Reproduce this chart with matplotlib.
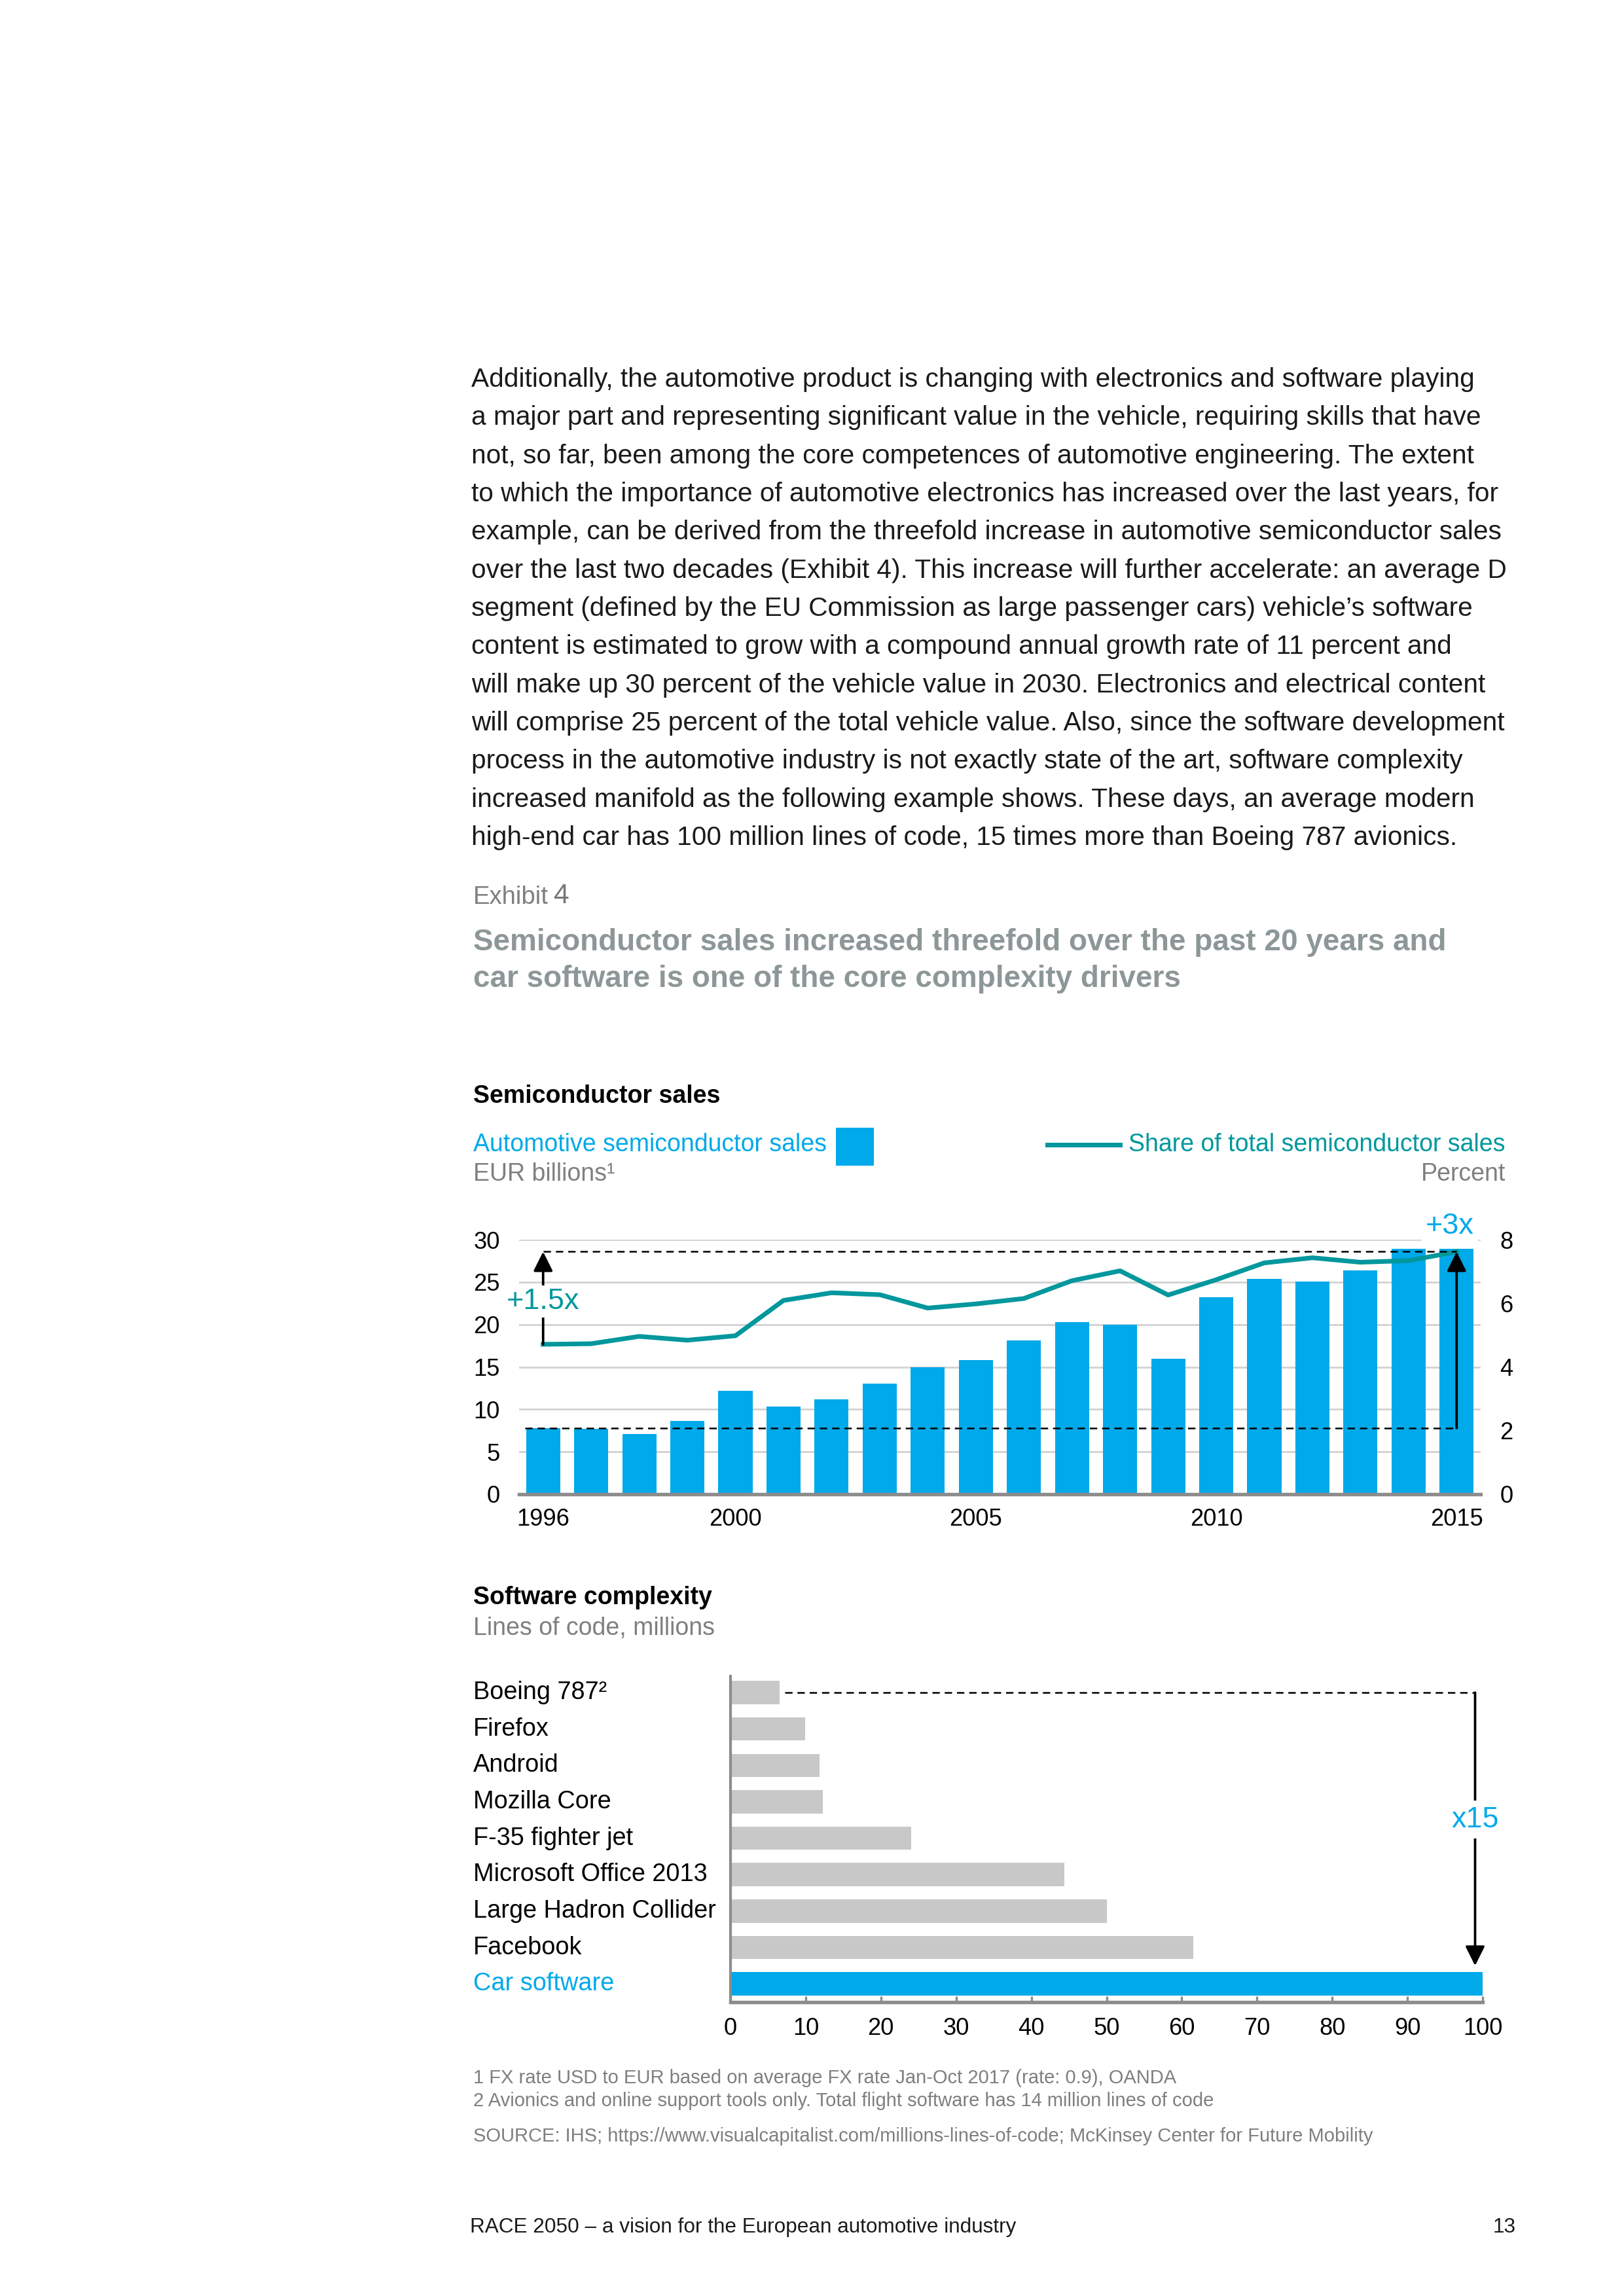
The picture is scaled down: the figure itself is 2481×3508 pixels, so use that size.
import matplotlib
matplotlib.use('Agg')
import matplotlib.pyplot as plt
from matplotlib.lines import Line2D
from matplotlib.patches import Rectangle

plt.rcParams['font.family'] = ['Liberation Sans', 'DejaVu Sans']

# page size in pixels (A4 at 300 dpi)
W, H = 2481, 3508

# semiconductor chart data
years = list(range(1996, 2016))
autoSales = [7.8, 7.7, 7.1, 8.6, 12.2, 10.3, 11.2, 13.0, 15.0, 15.8,
             18.1, 20.3, 20.0, 16.0, 23.2, 25.4, 25.1, 26.4, 28.9, 28.9]
shareTotal = [4.71, 4.73, 4.96, 4.84, 4.98, 6.09, 6.33, 6.27, 5.85, 5.98,
              6.15, 6.71, 7.02, 6.26, 6.74, 7.27, 7.43, 7.29, 7.34, 7.62]
yearTicks = [1996, 2000, 2005, 2010, 2015]

# software complexity data
programs = ['Boeing 787\u00b2', 'Firefox', 'Android', 'Mozilla Core', 'F-35 fighter jet',
            'Microsoft Office 2013', 'Large Hadron Collider', 'Facebook', 'Car software']
linesOfCode = [6.5, 9.9, 11.8, 12.3, 24.0, 44.4, 50.0, 61.5, 100.0]

bodyLines = [
    "Additionally, the automotive product is changing with electronics and software playing",
    "a major part and representing significant value in the vehicle, requiring skills that have",
    "not, so far, been among the core competences of automotive engineering. The extent",
    "to which the importance of automotive electronics has increased over the last years, for",
    "example, can be derived from the threefold increase in automotive semiconductor sales",
    "over the last two decades (Exhibit 4). This increase will further accelerate: an average D",
    "segment (defined by the EU Commission as large passenger cars) vehicle\u2019s software",
    "content is estimated to grow with a compound annual growth rate of 11 percent and",
    "will make up 30 percent of the vehicle value in 2030. Electronics and electrical content",
    "will comprise 25 percent of the total vehicle value. Also, since the software development",
    "process in the automotive industry is not exactly state of the art, software complexity",
    "increased manifold as the following example shows. These days, an average modern",
    "high-end car has 100 million lines of code, 15 times more than Boeing 787 avionics.",
]

CYAN = '#00A9E9'
TEAL = '#00979D'
GREY_BAR = '#C8C8C8'
GRID = '#D4D4D4'
AXIS = '#8C8C8C'
LABEL_GREY = '#7F7F7F'
TITLE_GREY = '#8D9797'


def fx(x):
    return x / W


def fy(y):
    return 1 - y / H


fig = plt.figure(figsize=(W / 300, H / 300), dpi=300)

# ---- body text ----
for i, line in enumerate(bodyLines):
    fig.text(fx(720), fy(580 + 58.35 * i), line, fontsize=9.75, color='#1A1A1A', va='center')

fig.text(fx(723), fy(1371), 'Exhibit', fontsize=9.2, color=LABEL_GREY, va='center')
fig.text(fx(846), fy(1369), '4', fontsize=10.2, color='#777777', va='center')
fig.text(fx(723), fy(1440), 'Semiconductor sales increased threefold over the past 20 years and',
         fontsize=11, color=TITLE_GREY, weight='bold', va='center')
fig.text(fx(723), fy(1496), 'car software is one of the core complexity drivers',
         fontsize=11, color=TITLE_GREY, weight='bold', va='center')

# ---- semiconductor chart header / legend ----
fig.text(fx(723), fy(1675), 'Semiconductor sales', fontsize=9, weight='bold', va='center')
fig.text(fx(723), fy(1749), 'Automotive semiconductor sales', fontsize=9, color=CYAN, va='center')
fig.text(fx(723), fy(1794), 'EUR billions\u00b9', fontsize=9, color=LABEL_GREY, va='center')
fig.patches.append(Rectangle((fx(1277), fy(1781)), 58 / W, 58 / H, transform=fig.transFigure,
                             facecolor=CYAN, edgecolor='none'))
fig.lines.append(Line2D([fx(1600), fx(1711)], [fy(1749), fy(1749)], transform=fig.transFigure,
                        color=TEAL, lw=1.7))
fig.text(fx(2300), fy(1749), 'Share of total semiconductor sales', fontsize=9, color=TEAL,
         va='center', ha='right')
fig.text(fx(2300), fy(1794), 'Percent', fontsize=9, color=LABEL_GREY, va='center', ha='right')

# ---- semiconductor chart ----
ax1 = fig.add_axes([fx(793), fy(2283), (2262 - 793) / W, (2283 - 1894) / H])
ax1.bar(years, autoSales, width=0.71, color=CYAN, zorder=2)
ax1.set_xlim(1995.5, 2015.5)
ax1.set_ylim(0, 30)
ax1.set_yticks(range(0, 31, 5))
ax1.set_xticks(yearTicks)
ax1.yaxis.grid(True, color=GRID, lw=0.7)
ax1.set_axisbelow(True)
for s in ['top', 'right', 'left']:
    ax1.spines[s].set_visible(False)
ax1.spines['bottom'].set_color(AXIS)
ax1.spines['bottom'].set_linewidth(1.3)
ax1.spines['bottom'].set_zorder(3)
ax1.tick_params(axis='both', length=0, labelsize=8.7)
ax1.tick_params(axis='y', pad=7)
ax1.tick_params(axis='x', pad=5)

ax2 = ax1.twinx()
ax2.plot(years, shareTotal, color=TEAL, lw=1.7, zorder=3)
ax2.set_ylim(0, 8)
ax2.set_yticks(range(0, 9, 2))
for s in ['top', 'right', 'left', 'bottom']:
    ax2.spines[s].set_visible(False)
ax2.tick_params(axis='y', length=0, labelsize=8.7, pad=7)

scale = 8 / 30  # left-axis units -> right-axis units
topLevel = shareTotal[-1]
baseLevel = autoSales[0] * scale
ax2.plot([years[0], years[-1]], [topLevel, topLevel], color='black', lw=0.6,
         dashes=(4.5, 3), zorder=4)
ax2.plot([1995.62, years[-1]], [baseLevel, baseLevel], color='black', lw=0.6,
         dashes=(4.5, 3), zorder=4)
arrow = dict(arrowstyle='-|>,head_length=0.6,head_width=0.3', color='black', lw=0.9,
             shrinkA=0, shrinkB=0, mutation_scale=10)
ax2.annotate('', xy=(years[0], topLevel), xytext=(years[0], shareTotal[0]),
             arrowprops=arrow, zorder=5)
ax2.annotate('', xy=(years[-1], topLevel), xytext=(years[-1], baseLevel),
             arrowprops=arrow, zorder=5)
ax2.text(years[0], 22.7 * scale, '+1.5x', fontsize=10.8, color=TEAL, ha='center', va='center',
         zorder=6, bbox=dict(facecolor='white', edgecolor='none', pad=1))
ax1.text(2014.86, 30.0, '+3x', fontsize=10.8, color=CYAN, ha='center', va='bottom',
         zorder=6, bbox=dict(facecolor='white', edgecolor='none', pad=1.5))

# ---- software complexity header ----
fig.text(fx(723), fy(2441), 'Software complexity', fontsize=9, weight='bold', va='center')
fig.text(fx(723), fy(2488), 'Lines of code, millions', fontsize=9, color=LABEL_GREY, va='center')

# ---- software complexity chart ----
ax3 = fig.add_axes([fx(1116), fy(3059), (2265 - 1116) / W, (3059 - 2561) / H])
pos = list(range(len(programs)))
barColors = [GREY_BAR] * (len(programs) - 1) + [CYAN]
ax3.barh(pos, linesOfCode, height=0.64, color=barColors, zorder=2)
ax3.set_xlim(0, 100)
ax3.set_ylim(len(programs) - 0.5, -0.45)
ax3.set_xticks(range(0, 101, 10))
ax3.set_yticks([])
for s in ['top', 'right']:
    ax3.spines[s].set_visible(False)
ax3.spines['left'].set_color(AXIS)
ax3.spines['left'].set_linewidth(1.0)
ax3.spines['bottom'].set_color(AXIS)
ax3.spines['bottom'].set_linewidth(1.3)
ax3.tick_params(axis='x', direction='in', length=2.2, width=0.8, color=AXIS,
                labelsize=8.7, pad=5.5)
for i, name in enumerate(programs):
    ax3.text(-0.342, i, name, transform=ax3.get_yaxis_transform(), fontsize=9.1,
             color=CYAN if i == len(programs) - 1 else 'black', ha='left', va='center')

arrowX = 99
ax3.plot([linesOfCode[0] + 0.7, arrowX], [0, 0], color='black', lw=0.6, dashes=(4.5, 3), zorder=4)
ax3.annotate('', xy=(arrowX, len(programs) - 1 - 0.5), xytext=(arrowX, 0),
             arrowprops=arrow, zorder=5)
ax3.text(arrowX, 3.49, 'x15', fontsize=10.8, color=CYAN, ha='center', va='center', zorder=6,
         bbox=dict(facecolor='white', edgecolor='none', pad=2))

# ---- footnotes ----
fig.text(fx(723), fy(3175), '1 FX rate USD to EUR based on average FX rate Jan-Oct 2017 (rate: 0.9), OANDA',
         fontsize=7, color=LABEL_GREY, va='center')
fig.text(fx(723), fy(3210), '2 Avionics and online support tools only. Total flight software has 14 million lines of code',
         fontsize=7, color=LABEL_GREY, va='center')
fig.text(fx(723), fy(3264), 'SOURCE: IHS; https://www.visualcapitalist.com/millions-lines-of-code; McKinsey Center for Future Mobility',
         fontsize=7, color=LABEL_GREY, va='center')

fig.text(fx(718), fy(3403), 'RACE 2050 \u2013 a vision for the European automotive industry',
         fontsize=7.55, color='#1A1A1A', va='center')
fig.text(fx(2298), fy(3403), '13', fontsize=7.55, color='#1A1A1A', va='center', ha='center')

fig.savefig('out.png', dpi=300, facecolor='white')
